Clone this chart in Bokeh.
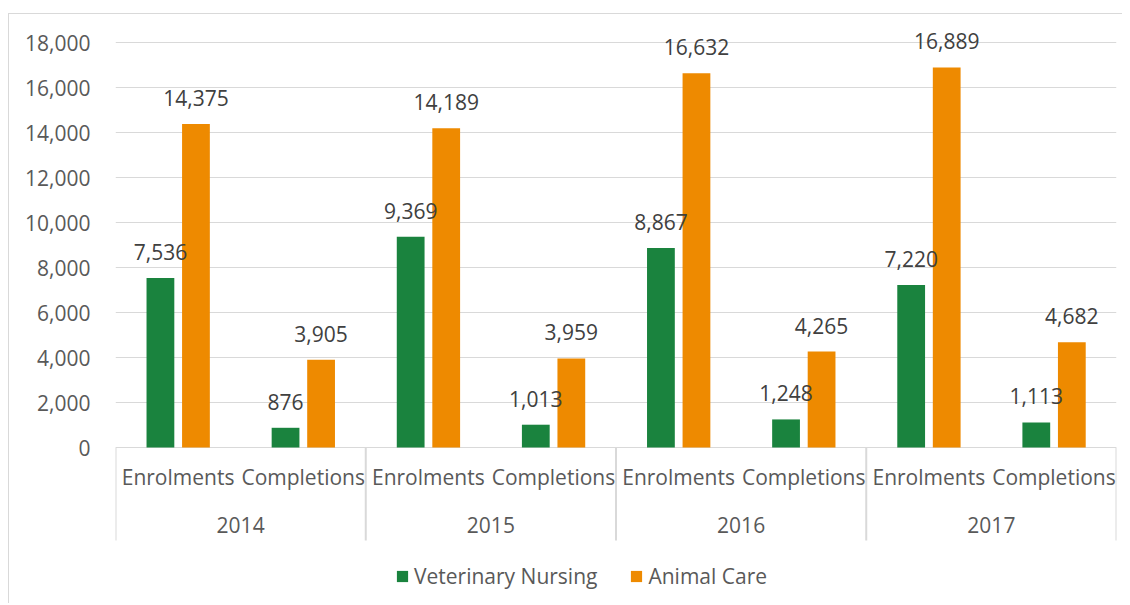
from bokeh.plotting import figure
from bokeh.models import (FactorRange, ColumnDataSource, LabelSet, Legend, LegendItem,
                          FixedTicker, NumeralTickFormatter, Range1d)
from bokeh.transform import dodge
from bokeh.core.properties import value
from bokeh.embed import file_html
from bokeh.resources import INLINE

years = ["2014", "2015", "2016", "2017"]
stages = ["Enrolments", "Completions"]
vet_nursing = [7536, 876, 9369, 1013, 8867, 1248, 7220, 1113]
animal_care = [14375, 3905, 14189, 3959, 16632, 4265, 16889, 4682]
y_ticks = [0, 2000, 4000, 6000, 8000, 10000, 12000, 14000, 16000, 18000]
series_names = ["Veterinary Nursing", "Animal Care"]

GREEN = "#1a833e"
ORANGE = "#ee8a00"
TXT = "#595959"
LINE = "#d9d9d9"
FONT = "Open Sans"
FS = "21px"

# layout (pixels)
W, H = 1114, 590
LEFT, RIGHT = 106, 7
PX_TOP = 28          # pixels from frame top to the 18,000 gridline
PX_AXIS = 405        # pixels from 18,000 to 0
UPP = y_ticks[-1] / PX_AXIS
y_end = y_ticks[-1] + PX_TOP * UPP
y_start = y_ticks[-1] - (H) * UPP + PX_TOP * UPP
sep_bottom = -93 * UPP

factors = [(y, s) for y in years for s in stages]
src = ColumnDataSource(dict(
    x=factors,
    vn=vet_nursing,
    ac=animal_care,
    vn_lbl=[f"{v:,}" for v in vet_nursing],
    ac_lbl=[f"{v:,}" for v in animal_care],
    stage=[s for _ in years for s in stages],
    base=[0] * len(factors),
))
ysrc = ColumnDataSource(dict(x=years, text=years, base=[0] * len(years)))
sep_src = ColumnDataSource(dict(x=[(y, stages[0]) for y in years], y0=[0] * len(years),
                                y1=[sep_bottom] * len(years)))
end_src = ColumnDataSource(dict(x=[(years[-1], stages[-1])], y0=[0], y1=[sep_bottom]))

p = figure(
    x_range=FactorRange(*factors, group_padding=0, factor_padding=0, range_padding=0),
    y_range=Range1d(y_start, y_end),
    width=W, height=H,
    output_backend="svg", toolbar_location=None,
    min_border_left=LEFT, min_border_right=RIGHT, min_border_top=0, min_border_bottom=0,
)
p.margin = (13, 0, 0, 8)
p.styles = {"border-left": "1px solid " + LINE, "border-top": "1px solid " + LINE}
p.outline_line_color = None
p.background_fill_color = "white"
p.border_fill_color = "white"

r1 = p.vbar(x=dodge("x", -0.141, range=p.x_range), top="vn", width=0.222,
            source=src, fill_color=GREEN, line_color=None)
r2 = p.vbar(x=dodge("x", 0.143, range=p.x_range), top="ac", width=0.222,
            source=src, fill_color=ORANGE, line_color=None)

# category separators
p.segment(x0=dodge("x", -0.5, range=p.x_range), y0="y0",
          x1=dodge("x", -0.5, range=p.x_range), y1="y1",
          source=sep_src, line_color=LINE, line_width=2)
p.segment(x0=dodge("x", 0.5, range=p.x_range), y0="y0",
          x1=dodge("x", 0.5, range=p.x_range), y1="y1",
          source=end_src, line_color=LINE, line_width=2)

for col, off in (("vn", -0.141), ("ac", 0.143)):
    p.add_layout(LabelSet(
        x=dodge("x", off, range=p.x_range), y=col, text=col + "_lbl", source=src,
        text_align="center", text_baseline="alphabetic", y_offset=18,
        text_font=value(FONT), text_font_size=FS, text_color="#404040",
    ))

# category labels
p.add_layout(LabelSet(
    x="x", y="base", text="stage", source=src, text_align="center", text_baseline="middle",
    y_offset=-29, text_font=value(FONT), text_font_size=FS, text_color=TXT,
))
p.add_layout(LabelSet(
    x="x", y="base", text="text", source=ysrc, text_align="center", text_baseline="middle",
    y_offset=-77, text_font=value(FONT), text_font_size=FS, text_color=TXT,
))

# y axis
p.yaxis.ticker = FixedTicker(ticks=y_ticks)
p.yaxis.formatter = NumeralTickFormatter(format="0,0")
p.yaxis.axis_line_color = None
p.yaxis.major_tick_line_color = None
p.yaxis.minor_tick_line_color = None
p.yaxis.major_label_standoff = 19
p.yaxis.major_label_text_font = FONT
p.yaxis.major_label_text_font_size = FS
p.yaxis.major_label_text_color = TXT

p.ygrid.grid_line_color = LINE
p.ygrid.grid_line_width = 1
p.xgrid.grid_line_color = None
p.xaxis.visible = False

legend = Legend(
    items=[LegendItem(label=series_names[0], renderers=[r1]),
           LegendItem(label=series_names[1], renderers=[r2])],
    orientation="horizontal", location=(280, 14),
    glyph_width=14, glyph_height=14, label_standoff=5, spacing=32,
    padding=0, margin=0, border_line_color=None, background_fill_alpha=0,
    label_text_font=FONT, label_text_font_size=FS, label_text_color=TXT,
)
p.add_layout(legend, "center")

open("out.html", "w").write(file_html(p, INLINE))
